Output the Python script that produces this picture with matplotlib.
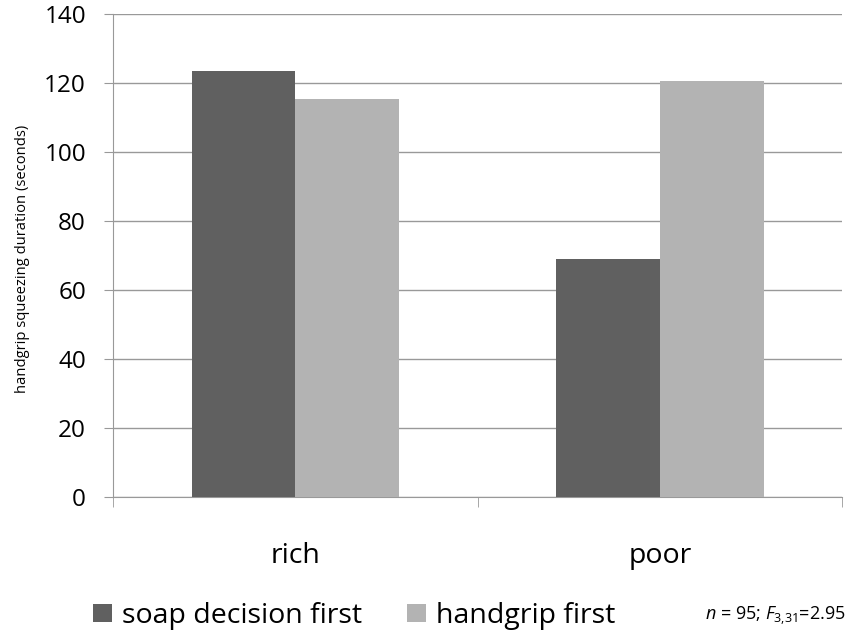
import numpy as np
import matplotlib.pyplot as plt

# values
groups = ['rich', 'poor']
series_names = ['soap decision first', 'handgrip first']
soap_first = [123.5, 69.0]
handgrip_first = [115.3, 120.6]
yticks = [0, 20, 40, 60, 80, 100, 120, 140]

plt.rcParams['font.family'] = ['Open Sans', 'DejaVu Sans']
plt.rcParams['mathtext.fontset'] = 'custom'
plt.rcParams['mathtext.rm'] = 'Open Sans'
plt.rcParams['mathtext.it'] = 'Open Sans:italic'

fig = plt.figure(figsize=(8.5, 6.39), dpi=100)
ax = fig.add_axes([0.133, 0.222, 0.858, 0.756])

x = np.arange(len(groups))
w = 0.284
b1 = ax.bar(x - w / 2, soap_first, w, color='#606060', label=series_names[0], zorder=3)
b2 = ax.bar(x + w / 2, handgrip_first, w, color='#b3b3b3', label=series_names[1], zorder=3)

ax.set_xlim(-0.5, 1.5)
ax.set_ylim(0, 140)
ax.set_yticks(yticks)
ax.tick_params(axis='y', labelsize=17.5, length=6.5, color='#999999', pad=13)
ax.yaxis.grid(True, color='#999999', linewidth=1, zorder=0)

# category labels centred, tick marks between categories
ax.set_xticks(x)
ax.set_xticklabels(groups, fontsize=20.5)
ax.tick_params(axis='x', which='major', length=0, pad=32)
ax.set_xticks([-0.5, 0.5, 1.5], minor=True)
ax.tick_params(axis='x', which='minor', length=7, color='#999999')

for side in ['top', 'right']:
    ax.spines[side].set_visible(False)
ax.spines['left'].set_color('#999999')
ax.spines['bottom'].set_color('#999999')

fig.text(0.026, 0.595, 'handgrip squeezing duration (seconds)', rotation=90,
         ha='center', va='center', fontsize=10.6)

fig.legend(handles=[b1, b2], loc='center left', bbox_to_anchor=(0.109, 0.036),
           ncol=2, frameon=False, fontsize=20.5, handlelength=0.67, handleheight=0.6,
           handletextpad=0.35, columnspacing=1.6, borderpad=0, borderaxespad=0)

fig.text(0.995, 0.036, r'$n$ = 95; $F_{3{,}31}$=2.95', ha='right', va='center', fontsize=13)

fig.savefig('out.png', dpi=100)
